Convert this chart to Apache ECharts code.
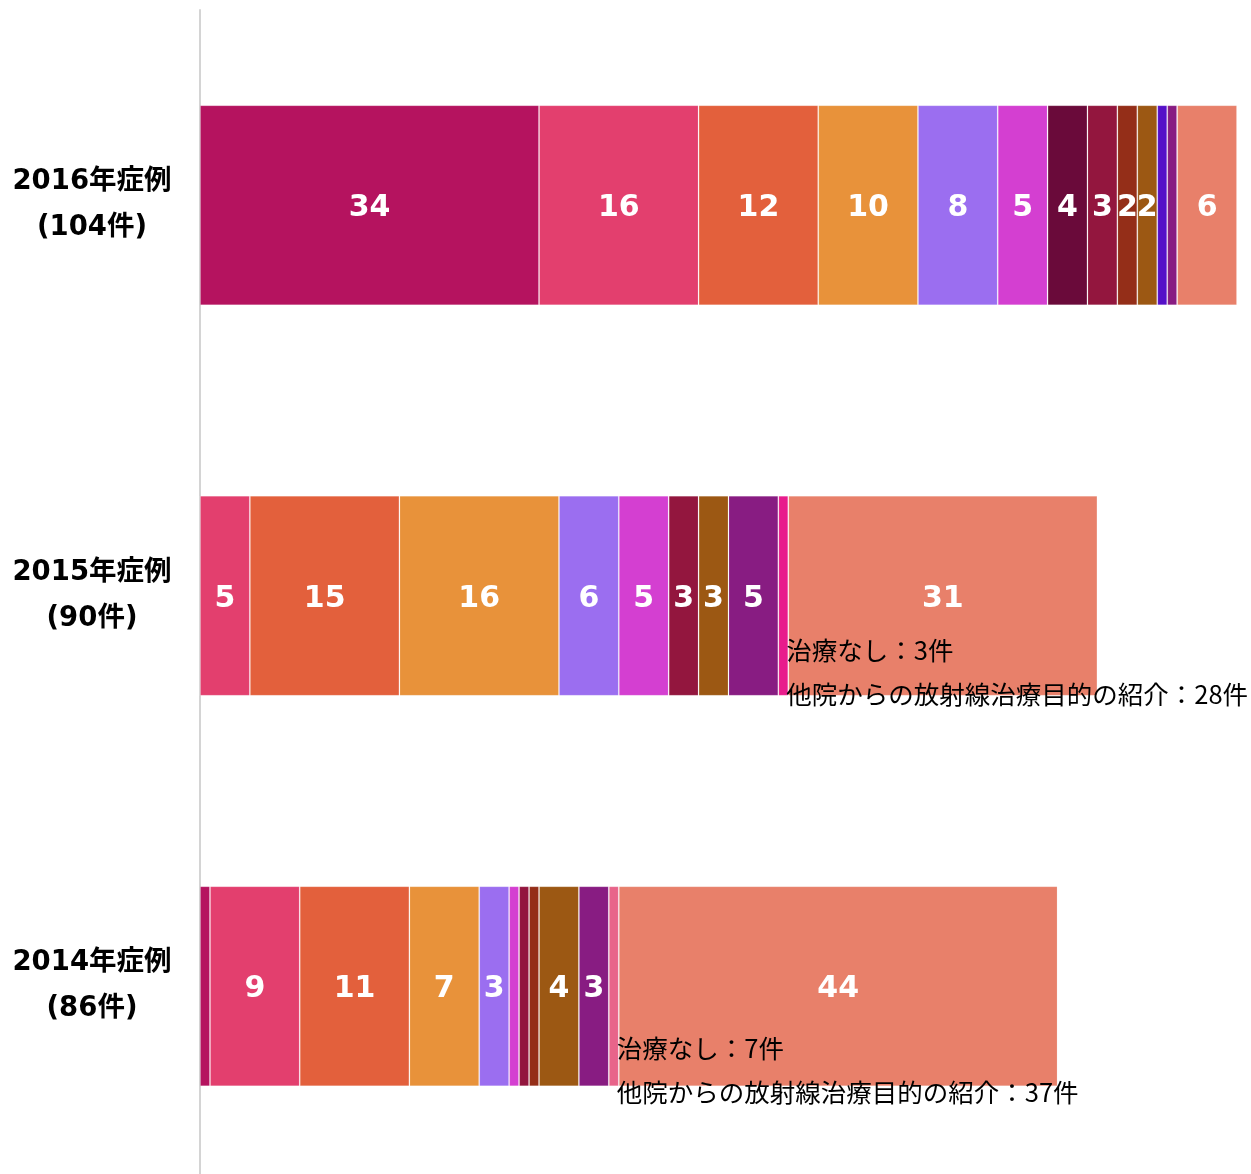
<!DOCTYPE html>
<html>
<head>
<meta charset="utf-8">
<script src="https://cdn.jsdelivr.net/npm/echarts@6/dist/echarts.min.js"></script>
<style>
html,body{margin:0;padding:0;background:#fff;overflow:hidden;}
#chart{width:1251px;height:1182px;}
</style>
</head>
<body>
<div id="chart"></div>
<script>
// categories, bottom to top
const categories = ['2014年症例\n(86件)', '2015年症例\n(90件)', '2016年症例\n(104件)'];
// segment values per category [2014, 2015, 2016]
const seg01 = [1, 0, 34];
const seg02 = [9, 5, 16];
const seg03 = [11, 15, 12];
const seg04 = [7, 16, 10];
const seg05 = [3, 6, 8];
const seg06 = [1, 5, 5];
const seg07 = [0, 0, 4];
const seg08 = [1, 3, 3];
const seg09 = [1, 0, 2];
const seg10 = [4, 3, 2];
const seg11 = [0, 0, 1];
const seg12 = [3, 5, 1];
const seg13 = [0, 1, 0];
const seg14 = [1, 0, 0];
const seg15 = [44, 31, 6];
// annotation counts per category [2014, 2015, 2016]
const noTreatment = [7, 3, null];
const referral = [37, 28, null];

const segColors = ['#b5135f','#e33f6e','#e3603c','#e8923a','#9b6ef0','#d43fd1','#6a0a3a','#93163e',
  '#942e18','#9c5813','#5510c8','#881c82','#e81c8c','#e8648a','#e8806a'];
const segs = [seg01,seg02,seg03,seg04,seg05,seg06,seg07,seg08,seg09,seg10,seg11,seg12,seg13,seg14,seg15];
// which segment carries the annotation for a category index, and its vertical shift
const noteCarrier = {1: 12, 0: 13};
const noteShift = {1: 77, 0: 84};

function noteLabel(i) {
  return {
    show: true,
    position: 'right',
    distance: 0,
    offset: [-2, noteShift[i]],
    align: 'left',
    color: '#000',
    fontWeight: 'normal',
    fontSize: 25.5,
    fontFamily: "'Noto Sans CJK JP', sans-serif",
    lineHeight: 44,
    formatter: '治療なし：' + noTreatment[i] + '件\n他院からの放射線治療目的の紹介：' + referral[i] + '件'
  };
}

const series = segs.map(function (arr, s) {
  return {
    type: 'bar',
    stack: 'total',
    barWidth: 200,
    itemStyle: { color: segColors[s], borderColor: 'rgba(255,255,255,0.15)', borderWidth: 1 },
    label: {
      show: true,
      position: 'inside',
      offset: [0, 3],
      color: '#fff',
      fontWeight: 'bold',
      fontSize: 30,
      fontFamily: "'DejaVu Sans', sans-serif",
      formatter: function (p) { return p.value >= 2 ? String(p.value) : ''; }
    },
    data: arr.map(function (v, i) {
      if (noteCarrier[i] === s) {
        return { value: v, label: noteLabel(i) };
      }
      return v;
    })
  };
});

const chart = echarts.init(document.getElementById('chart'));
chart.setOption({
  animation: false,
  grid: { left: 200, width: 1047, top: 10, height: 1171.5 },
  xAxis: { type: 'value', min: 0, max: 105, show: false },
  yAxis: {
    type: 'category',
    data: categories,
    axisLine: { show: true, lineStyle: { color: '#d4d4d4', width: 2 } },
    axisTick: { show: false },
    axisLabel: {
      margin: 108,
      align: 'center',
      color: '#000',
      fontWeight: 'bold',
      fontSize: 27.5,
      lineHeight: 46,
      padding: [4, 0, 0, 0],
      fontFamily: "'DejaVu Sans', 'Noto Sans CJK JP', sans-serif"
    }
  },
  series: series
});
</script>
</body>
</html>
